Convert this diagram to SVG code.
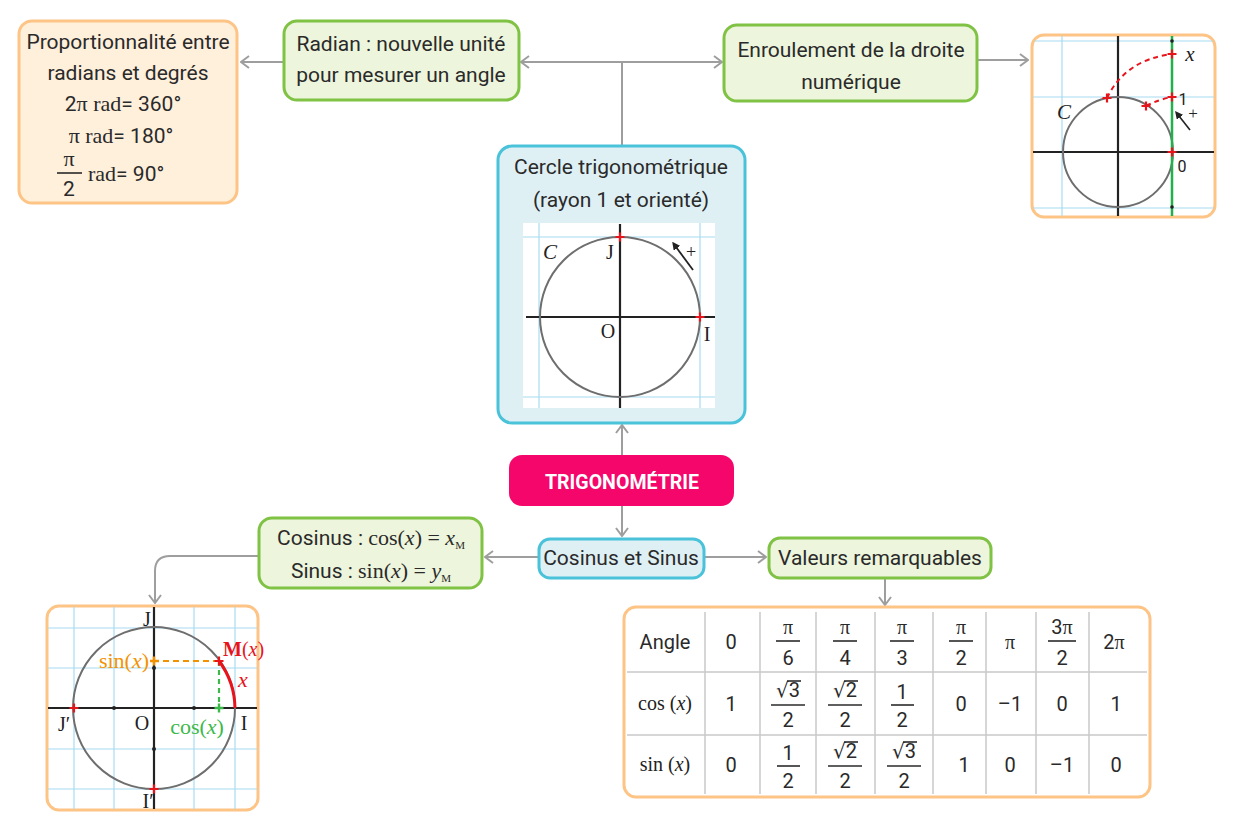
<svg xmlns="http://www.w3.org/2000/svg" width="1235" height="827" viewBox="0 0 1235 827">
<defs>
<style>
.g{fill:#edf5dc;stroke:#7fc244;stroke-width:3}
.o{fill:#fff0dc;stroke:#fdc486;stroke-width:3}
.ow{fill:#fff;stroke:#fdc486;stroke-width:3}
.b{fill:#dff0f5;stroke:#4ac2d9;stroke-width:3}
.p{fill:#f5066b}
.t{font-family:Roboto,"Open Sans",sans-serif;font-size:21px;fill:#2a2a2a;text-anchor:middle}
.tt{font-family:Roboto,"Open Sans",sans-serif;font-size:20px;fill:#2a2a2a;text-anchor:middle}
.s{font-family:Roboto,"Open Sans",sans-serif}
.m{font-family:"Liberation Serif","DejaVu Serif",serif}
.mm{font-family:"Liberation Serif","DejaVu Serif",serif;font-size:22px}
.i{font-family:"Liberation Serif","DejaVu Serif",serif;font-style:italic}
.conn{stroke:#9e9e9e;stroke-width:2;fill:none}
.grid{stroke:#a8dcf2;stroke-width:1.2;fill:none}
.ax{stroke:#222;stroke-width:2.2;fill:none}
.circ{stroke:#6e6e6e;stroke-width:2;fill:none}
.tl{stroke:#c9c9c9;stroke-width:1.5}
.fb{stroke:#2a2a2a;stroke-width:1.6}
.lbl{font-family:"Liberation Serif","DejaVu Serif",serif;font-size:20px;fill:#222;text-anchor:middle}
</style>
<marker id="ar" viewBox="0 0 10 14" markerWidth="10" markerHeight="14" refX="9" refY="7" orient="auto" markerUnits="userSpaceOnUse">
<path d="M1,1 L9,7 L1,13" fill="none" stroke="#9e9e9e" stroke-width="2"/>
</marker>
<marker id="blk" viewBox="0 0 10 10" markerWidth="8" markerHeight="8" refX="2" refY="5" orient="auto-start-reverse" markerUnits="userSpaceOnUse">
<path d="M0,0 L10,5 L0,10 Z" fill="#222"/>
</marker>
<path id="plus" d="M-4.5,0H4.5M0,-4.5V4.5" stroke="#e8141c" stroke-width="2.2"/>
<clipPath id="c1"><rect x="1033" y="36" width="181" height="180" rx="10"/></clipPath>
<clipPath id="c2"><rect x="48" y="607" width="209" height="202" rx="10"/></clipPath>
</defs>

<g id="connectors">
<path class="conn" d="M284,62 H241" marker-end="url(#ar)"/>
<path class="conn" d="M622,62 H521" marker-end="url(#ar)"/>
<path class="conn" d="M622,62 H722" marker-end="url(#ar)"/>
<path class="conn" d="M622,145 V62"/>
<path class="conn" d="M977,60 H1028" marker-end="url(#ar)"/>
<path class="conn" d="M622,455 V425" marker-end="url(#ar)"/>
<path class="conn" d="M622,506 V536" marker-end="url(#ar)"/>
<path class="conn" d="M539,557 H485" marker-end="url(#ar)"/>
<path class="conn" d="M704,557 H766" marker-end="url(#ar)"/>
<path class="conn" d="M259,556 H170 Q155,556 155,571 V603" marker-end="url(#ar)"/>
<path class="conn" d="M885,578 V605" marker-end="url(#ar)"/>
</g>

<g id="proportionnalite">
<rect class="o" x="19" y="21" width="218" height="182" rx="13"/>
<text class="t" x="128" y="49">Proportionnalité entre</text>
<text class="t" x="128" y="80">radians et degrés</text>
<text class="t" x="123" y="111">2<tspan class="mm">π  rad</tspan>= 360°</text>
<text class="t" x="121" y="143"><tspan class="mm">π  rad</tspan>= 180°</text>
<text class="t" x="69" y="166"><tspan class="mm">π</tspan></text>
<line class="fb" x1="57" y1="173" x2="82" y2="173"/>
<text class="t" x="69" y="196">2</text>
<text class="t" x="88" y="181" style="text-anchor:start"><tspan class="mm">rad</tspan>= 90°</text>
</g>

<g id="radian">
<rect class="g" x="284" y="21" width="235" height="79" rx="13"/>
<text class="t" x="401" y="51">Radian : nouvelle unité</text>
<text class="t" x="401" y="82">pour mesurer un angle</text>
</g>

<g id="enroulement">
<rect class="g" x="724" y="25" width="253" height="76" rx="13"/>
<text class="t" x="851" y="57">Enroulement de la droite</text>
<text class="t" x="851" y="89">numérique</text>
</g>

<g id="enroulement-figure">
<rect class="ow" x="1032" y="35" width="183" height="182" rx="12"/>
<g clip-path="url(#c1)">
<path class="grid" d="M1062,35V217 M1033,41H1215 M1033,97H1215 M1033,208H1215"/>
<path class="ax" d="M1033,152H1215 M1118,35V217"/>
<circle class="circ" cx="1118" cy="152" r="55"/>
<path d="M1172,35V217" stroke="#22b04b" stroke-width="2.5"/>
<circle cx="1172" cy="41" r="1.8" fill="#222"/>
<circle cx="1172" cy="207" r="1.8" fill="#222"/>
<path d="M1146,106 Q1160,99 1172,97" stroke="#e8141c" stroke-width="2" stroke-dasharray="5,4" fill="none"/>
<path d="M1107,98 Q1125,60 1172,54" stroke="#e8141c" stroke-width="2" stroke-dasharray="5,4" fill="none"/>
<use href="#plus" x="1172" y="152"/>
<use href="#plus" x="1172" y="97"/>
<use href="#plus" x="1172" y="54"/>
<use href="#plus" x="1107" y="98"/>
<use href="#plus" x="1146" y="106"/>
<path d="M1190,130 L1179,116" stroke="#222" stroke-width="1.6" marker-end="url(#blk)"/>
</g>
<text class="i" x="1064" y="119" font-size="21" fill="#222" text-anchor="middle">C</text>
<text class="s" x="1183" y="105" font-size="16" fill="#222" text-anchor="middle">1</text>
<text class="s" x="1182" y="172" font-size="16" fill="#222" text-anchor="middle">0</text>
<text class="i" x="1190" y="61" font-size="21" fill="#222" text-anchor="middle">x</text>
<text class="m" x="1193" y="119" font-size="17" fill="#222" text-anchor="middle">+</text>
</g>

<g id="cercle">
<rect class="b" x="498" y="146" width="247" height="277" rx="14"/>
<text class="t" x="621" y="174">Cercle trigonométrique</text>
<text class="t" x="621" y="207">(rayon 1 et orienté)</text>
<rect x="523" y="223" width="192" height="185" fill="#fff"/>
<path class="grid" d="M539,223V408 M700,223V408 M523,237H715 M523,397H715"/>
<path class="ax" d="M526,317H715 M620,224V408"/>
<circle class="circ" cx="620" cy="317" r="80"/>
<use href="#plus" x="620" y="237"/>
<use href="#plus" x="700" y="317"/>
<path d="M693,270 L676,247" stroke="#222" stroke-width="1.8" marker-end="url(#blk)"/>
<text class="i" x="550" y="259" font-size="21" fill="#222" text-anchor="middle">C</text>
<text class="lbl" x="610" y="259">J</text>
<text class="lbl" x="608" y="338">O</text>
<text class="lbl" x="707" y="341">I</text>
<text class="m" x="691" y="258" font-size="18" fill="#222" text-anchor="middle">+</text>
</g>

<g id="trigonometrie">
<rect class="p" x="509" y="455" width="225" height="51" rx="13"/>
<text class="s" x="545" y="489" font-size="21" font-weight="bold" fill="#fff" textLength="154" lengthAdjust="spacingAndGlyphs">TRIGONOMÉTRIE</text>
</g>

<g id="cosinus-sinus">
<rect class="b" x="539" y="539" width="165" height="39" rx="11"/>
<text class="t" x="621" y="565">Cosinus et Sinus</text>
</g>

<g id="valeurs">
<rect class="g" x="769" y="538" width="222" height="40" rx="11"/>
<text class="t" x="880" y="565">Valeurs remarquables</text>
</g>

<g id="definitions">
<rect class="g" x="259" y="518" width="223" height="70" rx="13"/>
<text class="t" x="371" y="545">Cosinus : <tspan class="mm">cos(</tspan><tspan class="i" font-size="22">x</tspan><tspan class="mm">)  = </tspan><tspan class="i" font-size="22">x</tspan><tspan class="m" font-size="11" dy="4">M</tspan></text>
<text class="t" x="371" y="578">Sinus : <tspan class="mm">sin(</tspan><tspan class="i" font-size="22">x</tspan><tspan class="mm">)  = </tspan><tspan class="i" font-size="22">y</tspan><tspan class="m" font-size="11" dy="4">M</tspan></text>
</g>

<g id="cercle-cos-sin">
<rect class="ow" x="47" y="606" width="211" height="204" rx="12"/>
<g clip-path="url(#c2)">
<path class="grid" d="M74,606V810 M114,606V810 M194,606V810 M235,606V810 M47,628H258 M47,668H258 M47,749H258 M47,789H258"/>
<path class="ax" d="M47,708H258 M154,606V810"/>
<circle class="circ" cx="154" cy="708" r="81"/>
<circle cx="114" cy="708" r="2" fill="#222"/>
<circle cx="194" cy="708" r="2" fill="#222"/>
<circle cx="154" cy="668" r="2" fill="#222"/>
<circle cx="154" cy="749" r="2" fill="#222"/>
<path d="M219,661 H156" stroke="#f39200" stroke-width="2.2" stroke-dasharray="6,4" fill="none"/>
<path d="M219,661 V706" stroke="#3cb94a" stroke-width="2.2" stroke-dasharray="5,4" fill="none"/>
<path d="M219,661 A81,81 0 0 1 235,708" stroke="#e8141c" stroke-width="3" fill="none"/>
<path d="M150,661H159M154,656.5V665.5" stroke="#f39200" stroke-width="2.4"/>
<path d="M214.5,708H223.5M219,703.5V712.5" stroke="#3cb94a" stroke-width="2.4"/>
<use href="#plus" x="74" y="708"/>
<use href="#plus" x="154" y="789"/>
<use href="#plus" x="219" y="661"/>
</g>
<text class="lbl" x="147" y="626">J</text>
<text class="lbl" x="64" y="731">J′</text>
<text class="lbl" x="142" y="730">O</text>
<text class="lbl" x="244" y="730">I</text>
<text class="lbl" x="148" y="808">I′</text>
<text class="m" x="149" y="668" font-size="22" fill="#f39200" text-anchor="end">sin(<tspan class="i">x</tspan>)</text>
<text class="m" x="197" y="734" font-size="22" fill="#3cb94a" text-anchor="middle">cos(<tspan class="i">x</tspan>)</text>
<text class="m" x="223" y="656" font-size="20" fill="#e8141c"><tspan font-weight="bold">M</tspan>(<tspan class="i">x</tspan>)</text>
<text class="i" x="243" y="687" font-size="22" fill="#e8141c" text-anchor="middle">x</text>
</g>

<g id="table">
<rect class="ow" x="624" y="607" width="526" height="190" rx="12"/>
<path class="tl" d="M627,672H1147 M627,735H1147 M705,612V794 M760,612V794 M816,612V794 M875,612V794 M933,612V794 M986,612V794 M1036,612V794 M1089,612V794"/>
<text class="tt" x="665" y="649">Angle</text>
<text class="tt" x="731" y="649">0</text>
<text class="tt m" x="788" y="634">π</text><line class="fb" x1="776" y1="641" x2="800" y2="641"/><text class="tt" x="788" y="665">6</text>
<text class="tt m" x="845" y="634">π</text><line class="fb" x1="833" y1="641" x2="857" y2="641"/><text class="tt" x="845" y="665">4</text>
<text class="tt m" x="902" y="634">π</text><line class="fb" x1="890" y1="641" x2="914" y2="641"/><text class="tt" x="902" y="665">3</text>
<text class="tt m" x="961" y="634">π</text><line class="fb" x1="949" y1="641" x2="973" y2="641"/><text class="tt" x="961" y="665">2</text>
<text class="tt m" x="1010" y="649">π</text>
<text class="tt" x="1062" y="634">3<tspan class="m">π</tspan></text><line class="fb" x1="1048" y1="641" x2="1076" y2="641"/><text class="tt" x="1062" y="665">2</text>
<text class="tt" x="1114" y="649">2<tspan class="m">π</tspan></text>
<text class="lbl" x="665" y="710" font-size="21">cos (<tspan class="i">x</tspan>)</text>
<text class="tt" x="731" y="711">1</text>
<text class="tt" x="788" y="697"><tspan font-family="DejaVu Sans">√</tspan>3</text><line class="fb" x1="787" y1="681" x2="801" y2="681"/><line class="fb" x1="771" y1="705" x2="805" y2="705"/><text class="tt" x="788" y="727">2</text>
<text class="tt" x="845" y="697"><tspan font-family="DejaVu Sans">√</tspan>2</text><line class="fb" x1="844" y1="681" x2="858" y2="681"/><line class="fb" x1="828" y1="705" x2="862" y2="705"/><text class="tt" x="845" y="727">2</text>
<text class="tt" x="902" y="699">1</text><line class="fb" x1="891" y1="705" x2="914" y2="705"/><text class="tt" x="902" y="727">2</text>
<text class="tt" x="961" y="711">0</text>
<text class="tt" x="1010" y="711">–1</text>
<text class="tt" x="1062" y="711">0</text>
<text class="tt" x="1116" y="711">1</text>
<text class="lbl" x="665" y="771" font-size="21">sin (<tspan class="i">x</tspan>)</text>
<text class="tt" x="731" y="772">0</text>
<text class="tt" x="788" y="760">1</text><line class="fb" x1="777" y1="766" x2="800" y2="766"/><text class="tt" x="788" y="788">2</text>
<text class="tt" x="845" y="758"><tspan font-family="DejaVu Sans">√</tspan>2</text><line class="fb" x1="844" y1="742" x2="858" y2="742"/><line class="fb" x1="828" y1="766" x2="862" y2="766"/><text class="tt" x="845" y="788">2</text>
<text class="tt" x="904" y="758"><tspan font-family="DejaVu Sans">√</tspan>3</text><line class="fb" x1="903" y1="742" x2="917" y2="742"/><line class="fb" x1="887" y1="766" x2="921" y2="766"/><text class="tt" x="904" y="788">2</text>
<text class="tt" x="964" y="772">1</text>
<text class="tt" x="1010" y="772">0</text>
<text class="tt" x="1062" y="772">–1</text>
<text class="tt" x="1116" y="772">0</text>
</g>
</svg>
